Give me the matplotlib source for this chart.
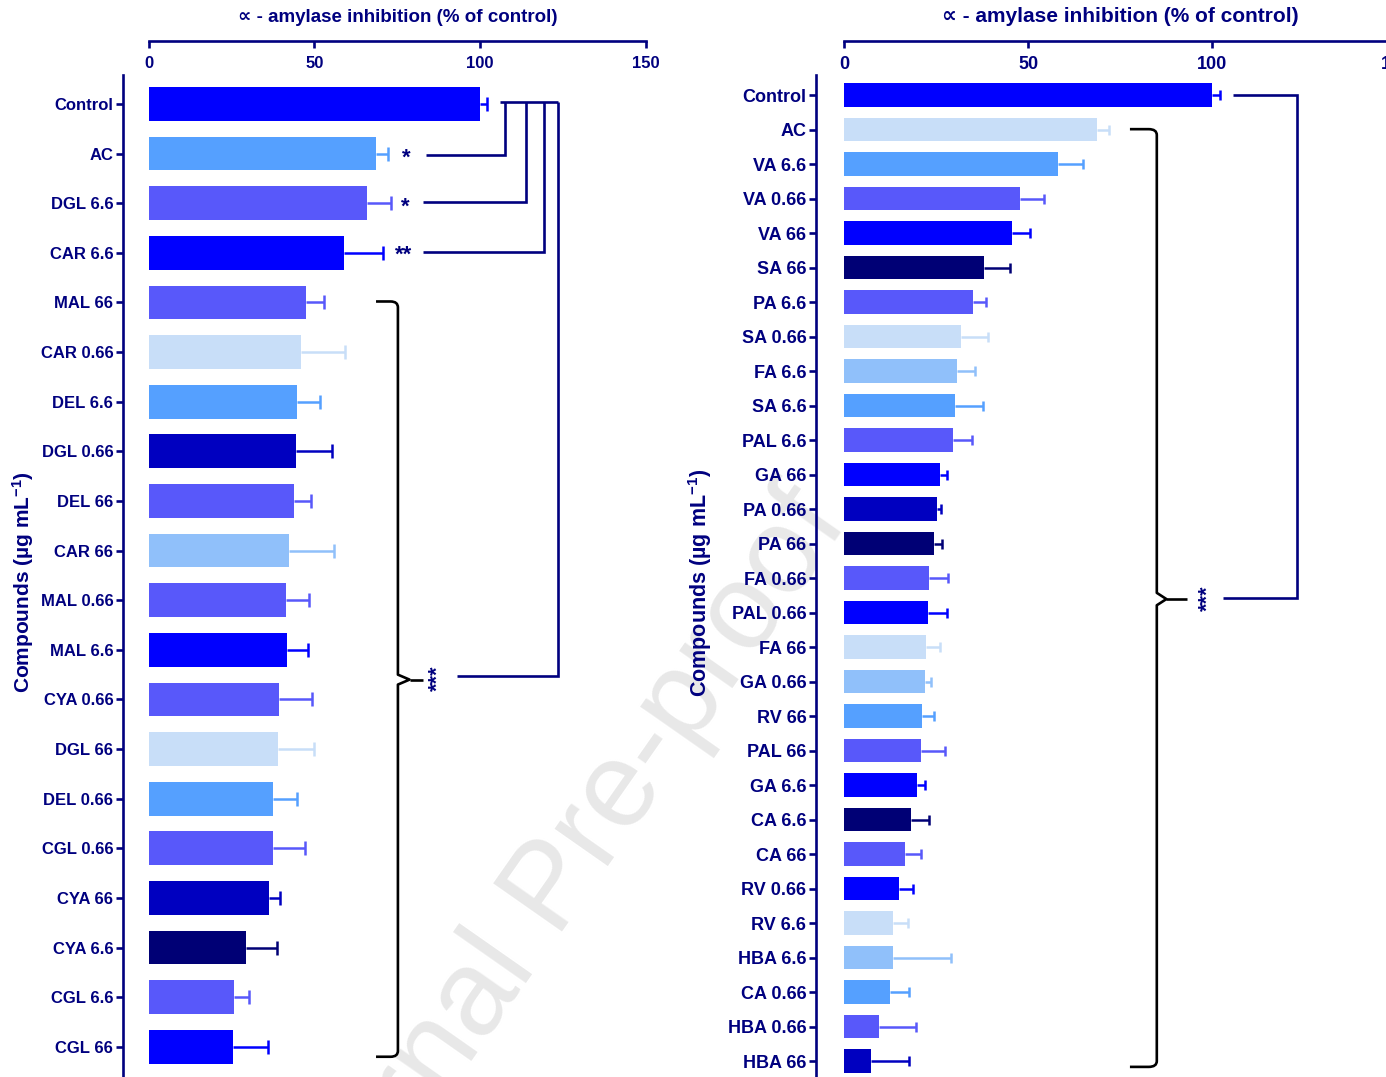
import matplotlib
matplotlib.use("Agg")
import matplotlib.pyplot as plt
import numpy as np
from matplotlib.path import Path
from matplotlib.patches import PathPatch

plt.rcParams["font.family"] = ["Liberation Sans", "DejaVu Sans"]
plt.rcParams["font.weight"] = "bold"
plt.rcParams["mathtext.fontset"] = "custom"
plt.rcParams["mathtext.rm"] = "Liberation Sans:bold"
plt.rcParams["mathtext.default"] = "regular"

NAVY = "#00007F"

# palette used for the bars
BLUE = "#0000FF"
MID = "#5858FA"
SKY = "#55A0FF"
PALE = "#C8DEF8"
LIGHT = "#90C0FA"
DARK = "#0000C0"
DEEP = "#000075"

# ---- left panel data ----
left_labels = ["Control", "AC", "DGL 6.6", "CAR 6.6", "MAL 66", "CAR 0.66", "DEL 6.6",
               "DGL 0.66", "DEL 66", "CAR 66", "MAL 0.66", "MAL 6.6", "CYA 0.66",
               "DGL 66", "DEL 0.66", "CGL 0.66", "CYA 66", "CYA 6.6", "CGL 6.6", "CGL 66"]
left_means = [100.0, 68.5, 65.8, 58.8, 47.5, 45.9, 44.9, 44.5, 43.9, 42.4, 41.5, 41.8,
              39.4, 39.1, 37.6, 37.6, 36.3, 29.3, 25.9, 25.6]
left_sem = [2.0, 3.7, 7.3, 11.9, 5.4, 13.4, 6.8, 10.8, 5.1, 13.6, 6.9, 6.3,
            9.9, 10.8, 7.2, 9.6, 3.4, 9.4, 4.5, 10.4]
left_colors = [BLUE, SKY, MID, BLUE, MID, PALE, SKY, DARK, MID, LIGHT, MID, BLUE,
               MID, PALE, SKY, MID, DARK, DEEP, MID, BLUE]

# ---- right panel data ----
right_labels = ["Control", "AC", "VA 6.6", "VA 0.66", "VA 66", "SA 66", "PA 6.6", "SA 0.66",
                "FA 6.6", "SA 6.6", "PAL 6.6", "GA 66", "PA 0.66", "PA 66", "FA 0.66",
                "PAL 0.66", "FA 66", "GA 0.66", "RV 66", "PAL 66", "GA 6.6", "CA 6.6",
                "CA 66", "RV 0.66", "RV 6.6", "HBA 6.6", "CA 0.66", "HBA 0.66", "HBA 66"]
right_means = [100.0, 68.7, 58.2, 47.8, 45.7, 38.1, 35.1, 31.8, 30.7, 30.2, 29.6, 26.1,
               25.3, 24.5, 23.1, 22.8, 22.3, 22.0, 21.2, 20.9, 19.8, 18.2, 16.6, 14.9,
               13.4, 13.4, 12.5, 9.5, 7.3]
right_sem = [2.3, 3.4, 6.8, 6.5, 4.8, 7.1, 3.5, 7.3, 4.9, 7.6, 5.2, 1.9,
             1.1, 2.2, 5.2, 5.2, 3.8, 1.6, 3.3, 6.5, 2.2, 4.9, 4.3, 3.8,
             4.1, 15.6, 5.2, 10.0, 10.4]
right_colors = [BLUE, PALE, SKY, MID, BLUE, DEEP, MID, PALE, LIGHT, SKY, MID, BLUE,
                DARK, DEEP, MID, BLUE, PALE, LIGHT, SKY, MID, BLUE, DEEP, MID, BLUE,
                PALE, LIGHT, SKY, MID, DARK]

x_ticks = [0, 50, 100, 150]
x_title = "\u221d - amylase inhibition (% of control)"
y_title = "Compounds (\u00b5g mL$^{-1}$)"

W, H = 1386, 1077
fig = plt.figure(figsize=(W / 100, H / 100), dpi=100)


def px_box(x0, x1, ytop, ybot):
    return [x0 / W, 1 - ybot / H, (x1 - x0) / W, (ybot - ytop) / H]


def draw_panel(ax, labels, means, sem, colors, xmin, ylim, fs_tick, fs_title, cap):
    idx = np.arange(len(labels))
    ax.barh(idx, means, height=0.68, color=colors, edgecolor="none", zorder=2)
    for i in idx:
        # one-sided (upper) error bar: keep only the outer cap
        _, caps, _ = ax.errorbar(means[i], i, xerr=[[0], [sem[i]]], fmt="none",
                                 ecolor=colors[i], elinewidth=1.8, capsize=cap,
                                 capthick=1.8, zorder=2)
        for c in caps:
            if np.allclose(c.get_xdata(), means[i]):
                c.set_visible(False)
    ax.set_xlim(xmin, 150)
    ax.set_ylim(*ylim)
    ax.set_facecolor("none")
    for s in ("top", "right"):
        ax.spines[s].set_visible(False)
    ax.spines["left"].set_color(NAVY)
    ax.spines["left"].set_linewidth(1.9)
    ax.spines["bottom"].set_color(NAVY)
    ax.spines["bottom"].set_linewidth(1.9)
    ax.spines["bottom"].set_position(("axes", 1 + 34 / 1015))
    ax.spines["bottom"].set_bounds(0, 150)
    ax.set_xticks(x_ticks)
    ax.set_xticklabels([str(t) for t in x_ticks])
    ax.tick_params(axis="x", direction="out", length=5, width=1.9, color=NAVY,
                   labelcolor=NAVY, labelsize=fs_tick, pad=6)
    ax.set_yticks(idx)
    ax.set_yticklabels(labels)
    ax.tick_params(axis="y", direction="out", length=5, width=1.9, color=NAVY,
                   labelcolor=NAVY, labelsize=fs_tick, pad=2)
    ax.text(75, 1 + 58 / 1015, x_title, transform=ax.get_xaxis_transform(),
            ha="center", va="center", color=NAVY, fontsize=fs_title, fontweight="bold")


def brace(ax, xh, xb, xtip, yt, ym, yb, r_x, r_y, nd, nx):
    verts = [(xh, yt), (xb - r_x, yt), (xb, yt), (xb, yt + r_y),
             (xb, ym - nd), (xb + nx, ym), (xb, ym + nd),
             (xb, yb - r_y), (xb, yb), (xb - r_x, yb), (xh, yb)]
    codes = [Path.MOVETO, Path.LINETO, Path.CURVE3, Path.CURVE3,
             Path.LINETO, Path.LINETO, Path.LINETO,
             Path.LINETO, Path.CURVE3, Path.CURVE3, Path.LINETO]
    ax.add_patch(PathPatch(Path(verts, codes), fill=False, lw=1.9, color="black",
                           capstyle="butt", joinstyle="round", clip_on=False))
    ax.plot([xb + nx, xtip], [ym, ym], color="black", lw=1.9, clip_on=False,
            solid_capstyle="butt")


def seg(ax, xs, ys):
    ax.plot(xs, ys, color=NAVY, lw=1.9, clip_on=False, solid_capstyle="butt",
            solid_joinstyle="miter")


# ---- left panel ----
axL = fig.add_axes(px_box(123, 646, 75, 1090))
draw_panel(axL, left_labels, left_means, left_sem, left_colors,
           xmin=-7.69, ylim=(19.87, -0.584), fs_tick=12, fs_title=13.5, cap=5)
seg(axL, [106.0, 123.5], [-0.035, -0.035])
seg(axL, [83.6, 107.4, 107.4], [1.03, 1.03, -0.035])
seg(axL, [82.8, 113.9, 113.9], [1.97, 1.97, -0.035])
seg(axL, [82.8, 119.3, 119.3], [2.98, 2.98, -0.035])
seg(axL, [93.0, 123.5, 123.5], [11.53, 11.53, -0.035])
for x, y, s in [(77.7, 1.1, "*"), (77.4, 2.08, "*"), (76.8, 3.05, "**")]:
    axL.text(x, y, s, ha="center", va="center", color=NAVY, fontsize=16,
             fontweight="bold")
axL.text(87.2, 11.57, "***", rotation=90, ha="center", va="center", color=NAVY,
         fontsize=15.5, fontweight="bold")
brace(axL, 68.6, 75.2, 82.7, 3.98, 11.6, 19.2, 2.2, 0.12, 0.1, 3.5)
axL.set_ylabel(y_title, color=NAVY, fontsize=15, fontweight="bold", labelpad=3)

# ---- right panel ----
axR = fig.add_axes(px_box(816, 1396, 75, 1090))
draw_panel(axR, right_labels, right_means, right_sem, right_colors,
           xmin=-7.61, ylim=(28.84, -0.58), fs_tick=13, fs_title=15, cap=3.6)
seg(axR, [105.8, 123.1, 123.1, 103.1], [0.0, 0.0, 14.58, 14.58])
axR.text(98.9, 14.58, "***", rotation=90, ha="center", va="center", color=NAVY,
         fontsize=15.5, fontweight="bold")
brace(axR, 77.7, 85.0, 93.1, 0.99, 14.61, 28.17, 2.2, 0.17, 0.18, 2.6)
axR.set_ylabel(y_title, color=NAVY, fontsize=15.5, fontweight="bold", labelpad=10)

# watermark
fig.text(552 / W, 1 - 890 / H, "Journal Pre-proof", rotation=55, rotation_mode="anchor",
         ha="center", va="center", fontsize=88, fontweight="normal", color="#E8E8E8",
         zorder=-5)

fig.savefig("out.png", dpi=100)
